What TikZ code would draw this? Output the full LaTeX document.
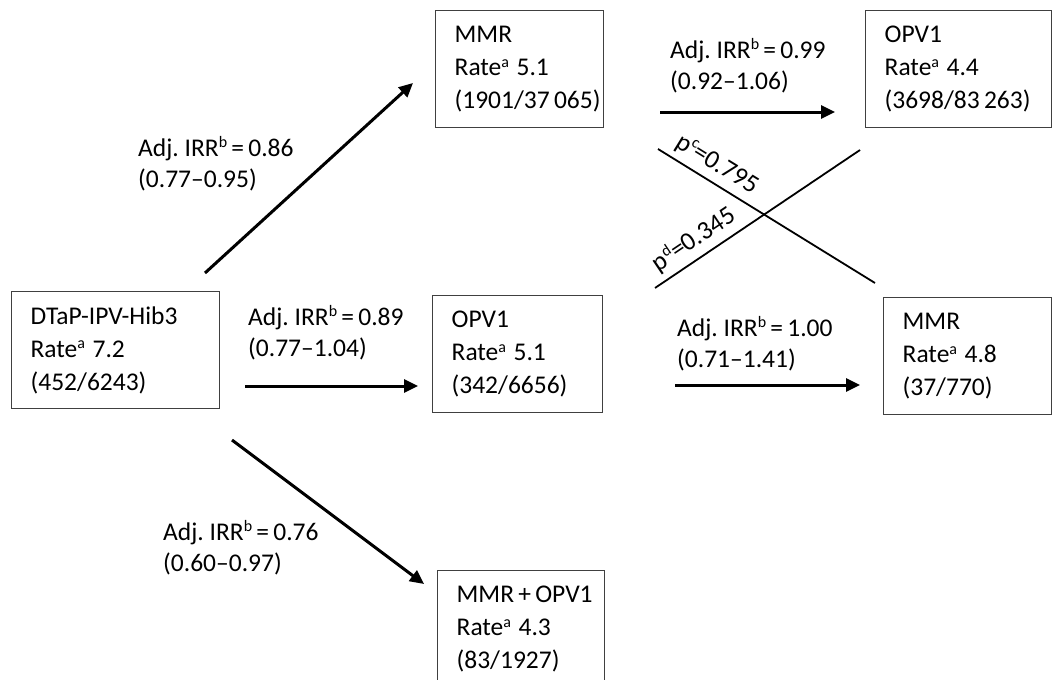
\documentclass[tikz,border=0pt]{standalone}
\usepackage{fontspec}
\setmainfont{Carlito}
\usetikzlibrary{arrows.meta}
\frenchspacing
\newcommand{\smallsup}[1]{\raisebox{0.7ex}{\fontsize{16}{16}\selectfont #1}}
\newcommand{\rate}[1]{Rate\smallsup{a}\hspace{-1pt} #1}
\newcommand{\irr}[2]{Adj. IRR\smallsup{b}\,=\,#1\\#2}
\newcommand{\vaxbox}[5]{
    \node[vaxbox,text width=#4pt] (#1) at (#2, #3) {#5};
}
\tikzset{
    vaxbox/.style={
        draw=black!75,
        line width=1.3pt,
        anchor=north west,
        align=left,
        inner xsep=19pt,
        minimum height=117pt,
        font=\fontsize{25.5}{33}\selectfont
    },
    irrlabel/.style={anchor=west,align=left,inner sep=0pt,font=\fontsize{25.5}{31.5}\selectfont},
    plabel/.style={sloped,above=6pt,inner sep=0pt,font=\fontsize{26}{30}\selectfont},
    flow/.style={line width=3pt,-{Triangle[length=14pt,width=13pt]}},
    cross/.style={line width=1.8pt}
}
\begin{document}
\begin{tikzpicture}[x={(1pt,0pt)},y={(0pt,-1pt)}]
        \useasboundingbox (0,0) rectangle (1053,680);
        % boxes
        \vaxbox{dtap}{11}{291}{170}{DTaP-IPV-Hib3\\\rate{7.2}\\(452/6243)}
        \vaxbox{mmrA}{435}{10}{130}{MMR\\\rate{5.1}\\(1901/37\,065)}
        \vaxbox{opvA}{865}{10}{148}{OPV1\\\rate{4.4}\\(3698/83\,263)}
        \vaxbox{opvB}{432}{295}{132}{OPV1\\\rate{5.1}\\(342/6656)}
        \vaxbox{mmrB}{883}{297}{130}{MMR\\\rate{4.8}\\(37/770)}
        \vaxbox{both}{437}{570}{129}{MMR\,+\,OPV1\\\rate{4.3}\\(83/1927)}
        % arrow ends
        \coordinate (a1s) at (205,273);
        \coordinate (a1e) at (413,83);
        \coordinate (a2s) at (245,386);
        \coordinate (a2e) at (418,386);
        \coordinate (a3s) at (232,440);
        \coordinate (a3e) at (424,584);
        \coordinate (a4s) at (660,112);
        \coordinate (a4e) at (835,112);
        \coordinate (a5s) at (675,385);
        \coordinate (a5e) at (860,385);
        \draw[flow] (a1s) -- (a1e);
        \draw[flow] (a2s) -- (a2e);
        \draw[flow] (a3s) -- (a3e);
        \draw[flow] (a4s) -- (a4e);
        \draw[flow] (a5s) -- (a5e);
        % IRR labels
        \node[irrlabel] (irr1) at (138,164) {\irr{0.86}{(0.77–0.95)}};
        \node[irrlabel] (irr2) at (670,66) {\irr{0.99}{(0.92–1.06)}};
        \node[irrlabel] (irr3) at (248,333) {\irr{0.89}{(0.77–1.04)}};
        \node[irrlabel] (irr4) at (677,344) {\irr{1.00}{(0.71–1.41)}};
        \node[irrlabel] (irr5) at (163,548) {\irr{0.76}{(0.60–0.97)}};
        % crossing
        \coordinate (c1s) at (658,149);
        \coordinate (c1e) at (875,283);
        \coordinate (c2s) at (655,288);
        \coordinate (c2e) at (860,150);
        \draw[cross] (c1s) -- node[plabel,pos=0.23] (pc) {p\smallsup{c}=0.795} (c1e);
        \draw[cross] (c2s) -- node[plabel,pos=0.24] (pd) {p\smallsup{d}=0.345} (c2e);
    \end{tikzpicture}
\end{document}
